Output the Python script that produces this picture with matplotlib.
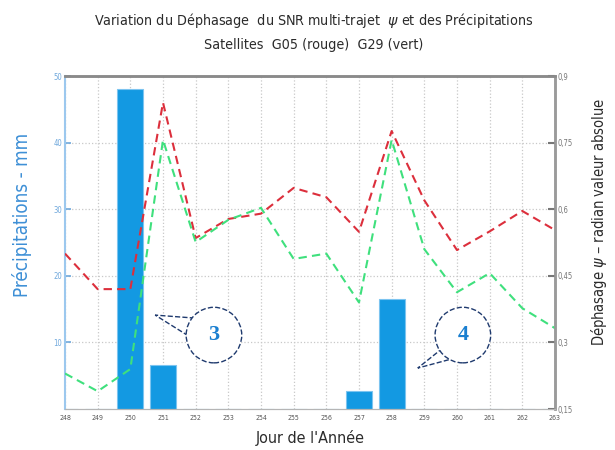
import matplotlib
matplotlib.use('Agg')
import matplotlib.pyplot as plt
from matplotlib.patches import Polygon

# jours de l'annee et donnees
days = list(range(248, 264))
day_labels = [str(d) for d in days]
precip_mm = [0, 0, 48.0, 6.6, 0, 0, 0, 0, 0, 2.7, 16.5, 0, 0, 0, 0, 0]
psi_g05 = [0.50, 0.42, 0.42, 0.84, 0.535, 0.578, 0.59, 0.648, 0.627, 0.549,
           0.776, 0.62, 0.508, 0.55, 0.596, 0.553]   # rouge
psi_g29 = [0.23, 0.19, 0.24, 0.756, 0.526, 0.576, 0.603, 0.488, 0.50, 0.39,
           0.756, 0.51, 0.413, 0.456, 0.377, 0.332]  # vert
left_ticks = [10, 20, 30, 40, 50]
right_ticks = [0.15, 0.3, 0.45, 0.6, 0.75, 0.9]
right_labels = ['0,15', '0,3', '0,45', '0,6', '0,75', '0,9']

narrow = dict(family='DejaVu Sans', stretch='condensed')
blue = '#3d8fd6'
dark = '#2b2b2b'

fig = plt.figure(figsize=(6.15, 4.5), dpi=100)
ax = fig.add_axes([0.1057, 0.0911, 0.7967, 0.74])
ax2 = ax.twinx()

ax.bar(days, precip_mm, width=0.8, color='#1399e2', edgecolor='#7cc4f0',
       linewidth=0.8, zorder=2)
ax.set_xlim(248, 263)
ax.set_ylim(0, 50)
ax.set_xticks(days)
ax.set_xticklabels(day_labels)
ax.set_yticks(left_ticks)
ax.grid(True, linestyle=':', color='#c8c8c8', linewidth=0.9, zorder=0)
ax.set_axisbelow(True)
ax.tick_params(axis='x', direction='in', length=0, labelsize=5, colors='#555555', pad=4)
ax.tick_params(axis='y', direction='in', length=4, labelsize=5.5, colors='#6fa8dc',
               width=1.2, pad=2)
for lbl in ax.get_xticklabels() + ax.get_yticklabels():
    lbl.set_fontstretch('condensed')

ax2.plot(days, psi_g05, linestyle='--', color='#dc2f3c', linewidth=1.5, dashes=(4, 2.5))
ax2.plot(days, psi_g29, linestyle='--', color='#3fe07d', linewidth=1.5, dashes=(4, 2.5))
ax2.set_ylim(0.15, 0.9)
ax2.set_yticks(right_ticks)
ax2.set_yticklabels(right_labels)
ax2.tick_params(axis='y', direction='in', length=5, labelsize=5.5, colors='#777777',
                width=1.5, pad=2)
for lbl in ax2.get_yticklabels():
    lbl.set_fontstretch('condensed')

ax.spines['left'].set_color('#9cc8ee')
ax.spines['left'].set_linewidth(1.5)
for a in (ax, ax2):
    a.spines['top'].set_color('#8a8a8a')
    a.spines['top'].set_linewidth(1.8)
    a.spines['bottom'].set_color('#b5b5b5')
    a.spines['right'].set_color('#9a9a9a')
    a.spines['right'].set_linewidth(1.8)
ax2.spines['left'].set_visible(False)

ax.set_xlabel("Jour de l'Année", fontsize=11.5, color=dark, labelpad=7, **narrow)
fig.text(0.036, 0.522, 'Précipitations - mm', rotation=90, ha='center', va='center',
         fontsize=13.5, color=blue, **narrow)
fig.text(0.974, 0.507, 'Déphasage $\\psi$ – radian valeur absolue', rotation=90,
         ha='center', va='center', fontsize=10.5, color=dark, **narrow)

fig.text(0.51, 0.955, 'Variation du Déphasage  du SNR multi-trajet  $\\psi$ et des Précipitations',
         ha='center', va='center', fontsize=10.3, color=dark, **narrow)
fig.text(0.51, 0.9, 'Satellites  G05 (rouge)  G29 (vert)',
         ha='center', va='center', fontsize=10.3, color=dark, **narrow)

# bulles de commentaire : cercle pointille + queue
bubbles = [('3', (0.304, 0.222), [(0.265, 0.273), (0.184, 0.282), (0.259, 0.213)]),
           ('4', (0.812, 0.222), [(0.771, 0.183), (0.720, 0.123), (0.796, 0.153)])]
for label, center, tail in bubbles:
    ax2.add_patch(Polygon(tail, closed=True, transform=ax2.transAxes, fc='white',
                          ec='#1f3a6e', ls='--', lw=1, zorder=9))
    ax2.text(center[0], center[1], label, transform=ax2.transAxes, ha='center',
             va='center', fontsize=16, fontweight='bold', family='Liberation Serif',
             color='#1a7fd0', zorder=10,
             bbox=dict(boxstyle='circle,pad=0.8', fc='white', ec='#1f3a6e',
                       ls='--', lw=1))

fig.savefig('out.png', dpi=100)
